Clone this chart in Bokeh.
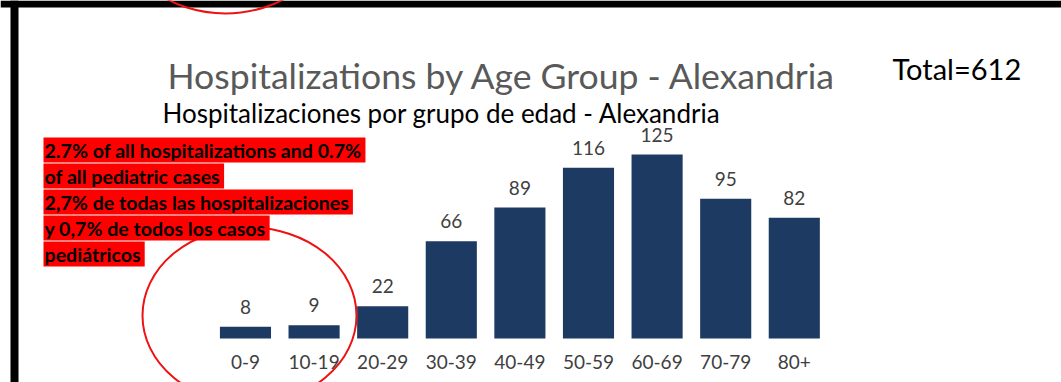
from bokeh.plotting import figure
from bokeh.models import Range1d, ColumnDataSource, Label
from bokeh.embed import file_html
from bokeh.resources import INLINE
from bokeh.core.properties import value

# ---- data ----
age_groups = ["0-9", "10-19", "20-29", "30-39", "40-49", "50-59", "60-69", "70-79", "80+"]
hospitalizations = [8, 9, 22, 66, 89, 116, 125, 95, 82]
title_en = "Hospitalizations by Age Group - Alexandria"
title_es = "Hospitalizaciones por grupo de edad - Alexandria"
total_text = "Total=612"
note_lines = [
    "2.7% of all hospitalizations and 0.7%",
    "of all pediatric cases",
    "2,7% de todas las hospitalizaciones",
    "y 0,7% de todos los casos",
    "pediátricos",
]

FONT = "Lato"
BAR_COLOR = "#1c3a62"
RED = "#ff0000"

p = figure(width=1061, height=382, output_backend="svg", toolbar_location=None,
           x_range=Range1d(0, 1061), y_range=Range1d(382, 0),
           min_border_left=0, min_border_right=0, min_border_top=0, min_border_bottom=0,
           x_axis_location=None, y_axis_location=None)
p.grid.visible = False
p.outline_line_color = None
p.background_fill_color = "white"
p.border_fill_color = "white"

# category slots (one unit per age group) and value scale for the bars
p.extra_x_ranges = {"bars": Range1d(-3.571, 11.895)}
p.extra_y_ranges = {"bars": Range1d(-29.88, 229.63)}

# frame decorations (black borders)
p.quad(left=[0], right=[1061], top=[0], bottom=[7], fill_color="black", line_color=None)
p.quad(left=[10], right=[18], top=[0], bottom=[382], fill_color="black", line_color=None)

src = ColumnDataSource(dict(
    slot=list(range(len(age_groups))),
    age=age_groups,
    n=hospitalizations,
    lbl=[str(v) for v in hospitalizations],
    base=[0] * len(age_groups),
))

p.vbar(x="slot", top="n", bottom=0, width=0.745, source=src,
       x_range_name="bars", y_range_name="bars",
       fill_color=BAR_COLOR, line_color=None)

p.text(x="slot", y="n", text="lbl", source=src, x_range_name="bars", y_range_name="bars",
       text_align="center", text_baseline="alphabetic", y_offset=-20,
       text_font=value(FONT), text_font_size="19px", text_color="#404040")
p.text(x="slot", y="base", text="age", source=src, x_range_name="bars", y_range_name="bars",
       text_align="center", text_baseline="alphabetic", y_offset=23,
       text_font=value(FONT), text_font_size="19px", text_color="#404040")

# red ellipses
p.ellipse(x=[249], y=[315], width=[214], height=[176], fill_color=None,
          line_color="#ee1111", line_width=2)
p.ellipse(x=[225], y=[-75], width=[214], height=[176], fill_color=None,
          line_color="#ee1111", line_width=2)

# titles
p.add_layout(Label(x=167, y=75, text=title_en, text_font=FONT, text_font_size="35.6px",
                   text_color="#595959", text_baseline="alphabetic"))
p.add_layout(Label(x=162, y=112, text=title_es, text_font=FONT, text_font_size="26px",
                   text_color="black", text_baseline="alphabetic"))
p.add_layout(Label(x=892, y=68, text=total_text, text_font=FONT, text_font_size="29px",
                   text_color="black", text_baseline="alphabetic"))

for i, line in enumerate(note_lines):
    p.add_layout(Label(x=43, y=137 + i * 26, text=line, text_font=FONT,
                       text_font_size="19.6px", text_font_style="bold",
                       text_color="black", text_baseline="top",
                       background_fill_color=RED, padding=(1, 4, 1, 1)))

open("out.html", "w").write(file_html(p, INLINE))
